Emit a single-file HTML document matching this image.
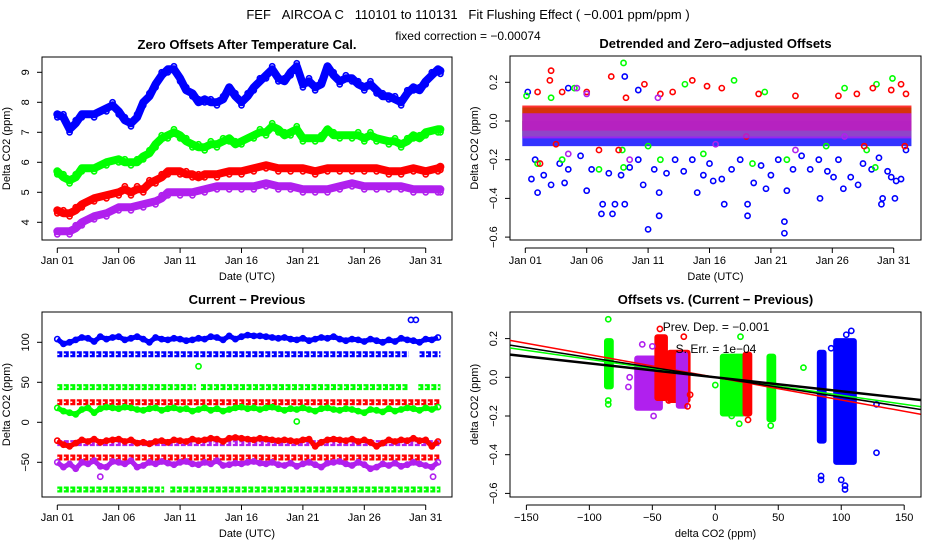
<!DOCTYPE html>
<html><head><meta charset="utf-8"><style>
html,body{margin:0;padding:0;background:#fff;}
svg{display:block;font-family:"Liberation Sans",Arial,sans-serif;}
</style></head><body>
<svg id="chart" width="936" height="540" viewBox="0 0 936 540" xmlns="http://www.w3.org/2000/svg">
<rect width="936" height="540" fill="#fff"/>
<text x="468" y="19" text-anchor="middle" font-size="13">FEF &#160;&#160;AIRCOA C &#160;&#160;110101 to 110131 &#160;&#160;Fit Flushing Effect ( −0.001 ppm/ppm )</text>
<text x="468" y="40" text-anchor="middle" font-size="12">fixed correction = −0.00074</text>
<g id="p1"></g><g id="p2"></g><g id="p3"></g><g id="p4"></g>
</svg>
<script>
// ---------- DATA ----------
const colors = ["#0000ff", "#00ff00", "#ff0000", "#b020ee"];
const seriesNames = ["blue", "green", "red", "purple"];
const dayTickLabels = ["Jan 01", "Jan 06", "Jan 11", "Jan 16", "Jan 21", "Jan 26", "Jan 31"];
const dayTickValues = [0, 5, 10, 15, 20, 25, 30];

// Panel 1: zero offsets [day, ppm]
const p1Blue = [[0,7.6],[0.5,7.5],[1,7.1],[1.5,7.3],[2,7.6],[3,7.6],[4,7.8],[4.5,7.9],[5,7.7],[5.5,7.4],[6,7.3],[6.5,7.5],[7,8.0],[7.5,8.2],[8,8.6],[8.5,8.9],[9,9.1],[9.5,9.1],[10,8.8],[10.5,8.4],[11,8.3],[11.5,8.0],[12,8.1],[12.5,8.0],[13,8.0],[13.5,8.1],[14,8.5],[14.5,8.2],[15,8.0],[15.5,8.2],[16,8.5],[16.5,8.7],[17,8.9],[17.5,9.1],[18,8.8],[18.5,8.7],[19,9.0],[19.5,9.2],[20,8.6],[20.5,8.7],[21,8.5],[21.5,8.6],[22,9.2],[22.5,8.9],[23,8.7],[23.5,8.8],[24,8.8],[24.5,8.6],[25,8.5],[25.5,8.6],[26,8.4],[26.5,8.2],[27,8.2],[27.5,8.1],[28,8.0],[28.5,8.3],[29,8.5],[29.5,8.4],[30,8.7],[30.5,8.9],[31,9.1],[31.2,9.05]];
const p1Green = [[0,5.7],[0.5,5.5],[1,5.4],[1.5,5.5],[2,5.8],[3,5.8],[4,6.0],[5,6.1],[5.5,6.0],[6,6.0],[6.5,6.0],[7,6.2],[7.5,6.3],[8,6.6],[8.5,6.8],[9,6.9],[9.5,7.0],[10,6.9],[10.5,6.7],[11,6.6],[11.5,6.5],[12,6.5],[12.5,6.6],[13,6.6],[13.5,6.7],[14,6.8],[14.5,6.6],[15,6.7],[16,6.9],[16.5,7.0],[17,7.0],[17.5,7.2],[18,7.1],[18.5,6.9],[19,7.0],[19.5,7.1],[20,6.8],[21,6.8],[21.5,6.8],[22,7.1],[22.5,6.9],[23,6.9],[24,6.9],[24.5,6.9],[25,6.8],[25.5,6.9],[26,6.8],[27,6.7],[27.5,6.7],[28,6.6],[28.5,6.7],[29,6.9],[29.5,6.8],[30,7.0],[31,7.1],[31.2,7.1]];
const p1Red = [[0,4.4],[0.5,4.3],[1,4.3],[1.5,4.4],[2,4.6],[3,4.8],[4,4.9],[5,5.0],[5.5,5.1],[6,5.0],[6.5,5.1],[7,5.1],[7.5,5.3],[8,5.4],[8.5,5.5],[9,5.7],[10,5.7],[10.5,5.6],[11,5.6],[11.5,5.5],[12,5.6],[13,5.6],[14,5.7],[15,5.7],[16,5.8],[17,5.9],[18,5.8],[19,5.8],[20,5.8],[21,5.7],[22,5.8],[23,5.8],[24,5.8],[25,5.8],[26,5.8],[27,5.7],[28,5.7],[29,5.8],[30,5.7],[31,5.8],[31.2,5.85]];
const p1Purple = [[0,3.7],[1,3.7],[1.5,3.8],[2,4.0],[3,4.2],[4,4.3],[5,4.5],[6,4.5],[7,4.6],[8,4.7],[8.5,4.8],[9,5.0],[10,5.0],[11,5.0],[12,5.1],[13,5.2],[14,5.2],[15,5.2],[16,5.2],[17,5.3],[18,5.2],[19,5.2],[20,5.1],[21,5.1],[22,5.1],[23,5.2],[24,5.3],[25,5.2],[26,5.2],[27,5.2],[28,5.2],[29,5.1],[30,5.1],[31,5.1],[31.2,5.1]];
const p1YTicks = [4, 5, 6, 7, 8, 9];

// Panel 2: detrended offsets; core band per series [lo, hi] and outliers [day, val]
const p2Bands = [[-0.13, 0.0], [-0.08, 0.07], [-0.05, 0.08], [-0.09, 0.04]];
const p2BlueOut = [[0.5,-0.30],[1,-0.37],[2.1,-0.33],[3.2,-0.32],[5,-0.36],[6.2,-0.48],[6.3,-0.43],[7.1,-0.48],[7.3,-0.43],[8.1,-0.43],[10,-0.56],[9.6,-0.33],[10.9,-0.49],[10.9,-0.37],[14,-0.37],[15.3,-0.31],[16.2,-0.43],[18.1,-0.43],[18.1,-0.49],[21.1,-0.52],[21.1,-0.58],[21.3,-0.36],[19.6,-0.35],[24,-0.40],[25.1,-0.29],[25.9,-0.35],[27.1,-0.33],[29,-0.43],[29.1,-0.40],[30.1,-0.40],[30.2,-0.31],[29.8,-0.29],[0.8,-0.2],[1.5,-0.28],[2.8,-0.22],[3.5,-0.25],[4.5,-0.18],[5.4,-0.25],[6.8,-0.27],[7.8,-0.28],[8.5,-0.24],[9.2,-0.2],[10.5,-0.25],[11.5,-0.27],[12.2,-0.2],[12.9,-0.26],[13.6,-0.2],[14.5,-0.28],[15,-0.22],[16,-0.3],[16.8,-0.25],[17.5,-0.2],[18.6,-0.32],[19.2,-0.23],[20,-0.28],[20.6,-0.2],[21.8,-0.25],[22.5,-0.18],[23.2,-0.25],[23.9,-0.2],[24.6,-0.26],[25.5,-0.2],[26.5,-0.29],[27.5,-0.22],[28.2,-0.25],[28.8,-0.19],[29.5,-0.26],[30.6,-0.3],[31,-0.15],[0.2,0.15],[8.1,0.23],[3.5,0.17],[9.2,0.16]];
const p2GreenOut = [[8,0.30],[0.1,0.13],[2.1,0.12],[4,0.17],[13,0.19],[17,0.21],[28.6,0.19],[29.9,0.22],[26,0.17],[19.5,0.15],[3,-0.2],[6,-0.25],[8,-0.24],[14.5,-0.17],[18.5,-0.22],[21.3,-0.2],[24.5,-0.13],[28.5,-0.24],[10,-0.13],[11,-0.2],[27.8,-0.15],[1,-0.22],[7.9,-0.15]];
const p2RedOut = [[2.1,0.26],[2,0.21],[7,0.23],[13.6,0.21],[9.7,0.19],[30.6,0.19],[1,0.15],[3,0.15],[5,0.15],[8.2,0.12],[11,0.14],[12,0.15],[14.8,0.18],[16,0.17],[19,0.14],[22,0.13],[25.5,0.13],[27,0.14],[28.3,0.17],[29.8,0.16],[31,0.14],[1.2,-0.22],[6,-0.15],[7.6,-0.15],[27.6,-0.13],[30.9,-0.13],[18,-0.08],[2.5,-0.12]];
const p2PurpleOut = [[3.5,-0.17],[4.2,0.17],[8.5,-0.2],[10.8,0.12],[5,0.14],[15.5,-0.12],[22,-0.15],[26,-0.08]];
const p2YTicks = [-0.6, -0.4, -0.2, 0.0, 0.2];
const p2YLabels = ["−0.6", "−0.4", "−0.2", "0.0", "0.2"];

// Panel 3: current - previous; noisy series per half day and constant levels
const p3Blue = [104,98,100,103,106,105,101,107,104,106,107,103,105,107,104,100,106,104,103,105,104,102,103,105,104,107,106,103,108,104,107,109,108,108,107,106,105,106,104,103,105,102,104,106,105,107,104,102,104,103,101,104,102,100,103,101,105,103,102,100,104,103,106];
const p3Green = [18,14,12,10,16,18,12,17,19,18,17,19,18,16,15,17,18,15,17,18,16,17,14,16,18,15,17,14,16,18,19,17,18,16,18,19,17,15,17,16,18,16,14,17,18,16,15,17,16,14,12,16,15,13,17,14,16,18,17,15,18,16,19];
const p3Red = [-23,-28,-30,-26,-22,-24,-21,-25,-23,-22,-21,-24,-22,-26,-25,-27,-24,-23,-25,-22,-23,-24,-21,-23,-22,-20,-21,-24,-20,-19,-20,-21,-22,-20,-21,-22,-23,-22,-23,-24,-22,-21,-30,-25,-22,-21,-22,-23,-21,-24,-22,-25,-30,-26,-22,-24,-22,-23,-20,-23,-22,-30,-24];
const p3Purple = [-50,-56,-52,-58,-50,-52,-48,-55,-56,-49,-50,-52,-48,-56,-54,-50,-52,-49,-51,-53,-50,-49,-52,-53,-50,-52,-48,-54,-53,-51,-52,-50,-49,-51,-52,-50,-53,-54,-51,-55,-52,-50,-53,-56,-51,-50,-49,-52,-54,-50,-53,-58,-56,-52,-54,-51,-55,-53,-50,-52,-54,-56,-50];
// constant levels: [value, startDay, endDay, colorIndex]
const p3Levels = [[85,0,28.6,0],[85,29.5,31.2,0],[44,0,11.3,1],[44,11.7,28.6,1],[44,29.4,31.2,1],[25,0,31.2,2],[-26,0,31.2,3],[-44,0,31.2,2],[-84,0,8.7,1],[-84,9.2,31.2,1]];
const p3Extra = [[28.8,128,0],[29.2,128,0],[11.5,70,1],[19.5,1,1],[3.5,-68,3],[30.6,-68,3]];
const p3YTicks = [-50, 0, 50, 100];
const p3YLabels = ["−50", "0", "50", "100"];

// Panel 4: clusters [xMin, xMax, yLo, yHi, colorIndex]
const p4Clusters = [[-86,-83,-0.06,0.2,1],[-62,-44,-0.17,0.11,3],[-46,-40,-0.12,0.22,2],[-36,-22,-0.13,0.14,2],[-29,-24,-0.16,0.13,3],[6,22,-0.2,0.12,1],[24,27,-0.2,0.13,2],[43,46,-0.23,0.12,1],[83,86,-0.34,0.14,0],[96,110,-0.45,0.2,0]];
const p4Outliers = [[-85,0.3,1],[-85,-0.12,1],[-85,-0.14,1],[-68,0.0,3],[-69,-0.05,3],[-58,0.17,3],[-50,0.16,3],[-49,-0.2,3],[-44,0.25,2],[-37,-0.12,2],[-25,0.21,2],[-22,-0.15,2],[-20,-0.09,2],[0,-0.04,1],[20,0.21,1],[19,-0.24,1],[13,-0.2,1],[70,0.05,1],[26,-0.22,2],[44,-0.25,1],[84,-0.53,0],[84,-0.51,0],[92,0.15,0],[103,-0.58,0],[103,-0.56,0],[104,0.22,0],[108,0.24,0],[128,-0.39,0],[128,-0.14,0],[100,-0.53,0]];
// fit lines: [slope, intercept, colorIndex or -1 for black, width]
const p4Fits = [[-0.00117, 0, 2, 1.5],[-0.00093, 0, 1, 1.5],[-0.00102, 0, -1, 1.5],[-0.00072, 0, -1, 2.5]];
const p4XTicks = [-150, -100, -50, 0, 50, 100, 150];
const p4XLabels = ["−150", "−100", "−50", "0", "50", "100", "150"];
const p4YTicks = [-0.6, -0.4, -0.2, 0.0, 0.2];
const p4YLabels = ["−0.6", "−0.4", "−0.2", "0.0", "0.2"];

// ---------- DRAWING ----------
const NS = "http://www.w3.org/2000/svg";
function mk(parent, tag, attrs) {
  const e = document.createElementNS(NS, tag);
  for (const k in attrs) e.setAttribute(k, attrs[k]);
  parent.appendChild(e);
  return e;
}
function linear(d0, d1, r0, r1) { return v => r0 + (v - d0) * (r1 - r0) / (d1 - d0); }

function frame(g, box, title, xlab, ylab, xt, xl, yt, yl, sx, sy, pname) {
  const fr = mk(g, "rect", {x: box.x0, y: box.y0, width: box.x1 - box.x0, height: box.y1 - box.y0, fill: "none", stroke: "#000", "stroke-width": 1});
  
  
  const t = mk(g, "text", {x: (box.x0 + box.x1) / 2, y: box.y0 - 8, "text-anchor": "middle", "font-size": 13, "font-weight": "bold"});
  t.textContent = title;
  
  
  const xa = mk(g, "g", {});
  
  
  mk(xa, "line", {x1: sx(xt[0]), x2: sx(xt[xt.length - 1]), y1: box.y1 + 8, y2: box.y1 + 8, stroke: "#000"});
  xt.forEach((v, i) => {
    const x = sx(v);
    mk(xa, "line", {x1: x, x2: x, y1: box.y1 + 8, y2: box.y1 + 13, stroke: "#000"});
    const tl = mk(xa, "text", {x: x, y: box.y1 + 24, "text-anchor": "middle", "font-size": 11});
    tl.textContent = xl[i];
    
    
  });
  const xt2 = mk(g, "text", {x: (box.x0 + box.x1) / 2, y: box.y1 + 40, "text-anchor": "middle", "font-size": 11});
  xt2.textContent = xlab;
  
  
  const ya = mk(g, "g", {});
  
  
  mk(ya, "line", {x1: box.x0, x2: box.x0, y1: sy(yt[0]), y2: sy(yt[yt.length - 1]), stroke: "#000"});
  yt.forEach((v, i) => {
    const y = sy(v);
    mk(ya, "line", {x1: box.x0 - 5, x2: box.x0, y1: y, y2: y, stroke: "#000"});
    const tl = mk(ya, "text", {x: box.x0 - 13, y: y, "text-anchor": "middle", "font-size": 11, transform: `rotate(-90 ${box.x0 - 13} ${y})`});
    tl.textContent = yl[i];
    
    
  });
  const cy = (box.y0 + box.y1) / 2, cx = box.x0 - 32;
  const yt2 = mk(g, "text", {x: cx, y: cy, "text-anchor": "middle", "font-size": 11, transform: `rotate(-90 ${cx} ${cy})`});
  yt2.textContent = ylab;
  
  
}
function dot(g, x, y, c, name) {
  const e = mk(g, "circle", {cx: x, cy: y, r: 2.6, fill: "none", stroke: c, "stroke-width": 1.6});
  
  
  return e;
}

// Panel 1
(function () {
  const g = document.getElementById("p1");
  const box = {x0: 42, x1: 452, y0: 57, y1: 240};
  const sx = linear(0, 30, 57.3, 425.7), sy = linear(4, 9, 222.3, 72.3);
  frame(g, box, "Zero Offsets After Temperature Cal.", "Date (UTC)", "Delta CO2 (ppm)", dayTickValues, dayTickLabels, p1YTicks, p1YTicks.map(String), sx, sy, "offsets-panel");
  [p1Blue, p1Green, p1Red, p1Purple].forEach((s, k) => {
    const sg = mk(g, "g", {});
    
    
    const d = s.map((p, i) => (i ? "L" : "M") + sx(p[0]).toFixed(1) + "," + sy(p[1]).toFixed(1)).join("");
    mk(sg, "path", {d: d, fill: "none", stroke: colors[k], "stroke-width": 8, "stroke-linejoin": "round", "stroke-linecap": "round"});
    s.forEach(p => dot(sg, sx(p[0]), sy(p[1]) + (Math.round(p[0] * 2) % 2 ? -3 : 3), colors[k], 'point'));
  });
})();

// Panel 2
(function () {
  const g = document.getElementById("p2");
  const box = {x0: 510, x1: 921, y0: 56, y1: 240};
  const sx = linear(0, 30, 525.3, 893.7), sy = linear(0, 0.2, 121, 82.3);
  frame(g, box, "Detrended and Zero−adjusted Offsets", "Date (UTC)", "Delta CO2 (ppm)", dayTickValues, dayTickLabels, p2YTicks, p2YLabels, sx, sy, "detrended-panel");
  const outs = [p2BlueOut, p2GreenOut, p2RedOut, p2PurpleOut];
  [0, 1, 2, 3].forEach(k => {
    const sg = mk(g, "g", {});
    
    
    const b = p2Bands[k];
    const band = mk(sg, "rect", {x: sx(0) - 3, width: sx(31.2) - sx(0) + 6, y: sy(b[1]), height: sy(b[0]) - sy(b[1]), fill: colors[k], opacity: 0.8});
    
    
    outs[k].forEach(p => dot(sg, sx(p[0]), sy(p[1]), colors[k], 'point'));
  });
})();

// Panel 3
(function () {
  const g = document.getElementById("p3");
  const box = {x0: 42, x1: 452, y0: 312, y1: 497};
  const sx = linear(0, 30, 57.3, 425.7), sy = linear(0, 100, 422.3, 342.3);
  frame(g, box, "Current − Previous", "Date (UTC)", "Delta CO2 (ppm)", dayTickValues, dayTickLabels, p3YTicks, p3YLabels, sx, sy, "current-previous-panel");
  p3Levels.forEach(l => {
    const lg = mk(g, "g", {});
    
    
    mk(lg, "line", {x1: sx(l[1]), x2: sx(l[2]), y1: sy(l[0]), y2: sy(l[0]), stroke: colors[l[3]], "stroke-width": 6, "stroke-dasharray": "5 1.5"});
    mk(lg, "line", {x1: sx(l[1]), x2: sx(l[2]), y1: sy(l[0]), y2: sy(l[0]), stroke: "#fff", "stroke-width": 1.5, "stroke-dasharray": "2 4.5"});
  });
  [p3Blue, p3Green, p3Red, p3Purple].forEach((s, k) => {
    const sg = mk(g, "g", {});
    
    
    const d = s.map((v, i) => (i ? "L" : "M") + sx(i * 0.5).toFixed(1) + "," + sy(v).toFixed(1)).join("");
    mk(sg, "path", {d: d, fill: "none", stroke: colors[k], "stroke-width": 5, "stroke-linejoin": "round"});
    s.forEach((v, i) => dot(sg, sx(i * 0.5), sy(v), colors[k], 'point'));
  });
  p3Extra.forEach(p => dot(g, sx(p[0]), sy(p[1]), colors[p[2]], 'outlier-point'));
})();

// Panel 4
(function () {
  const g = document.getElementById("p4");
  const box = {x0: 510, x1: 921, y0: 312, y1: 497};
  const sx = linear(0, 150, 715.3, 904.2), sy = linear(0, 0.2, 377.3, 338.6);
  frame(g, box, "Offsets vs. (Current − Previous)", "delta CO2 (ppm)", "delta CO2 (ppm)", p4XTicks, p4XLabels, p4YTicks, p4YLabels, sx, sy, "scatter-panel");
  p4Clusters.forEach(c => {
    const r = mk(g, "rect", {x: sx(c[0]) - 2.5, width: sx(c[1]) - sx(c[0]) + 5, y: sy(c[3]), height: sy(c[2]) - sy(c[3]), rx: 2.5, fill: colors[c[4]], stroke: colors[c[4]], "stroke-width": 1});
    
    
  });
  p4Outliers.forEach(p => dot(g, sx(p[0]), sy(p[1]), colors[p[2]], 'outlier-point'));
  const cg = mk(g, "g", {});
  p4Fits.forEach(f => {
    const xa = -163, xb = 163;
    const l = mk(cg, "line", {x1: sx(xa), x2: sx(xb), y1: sy(f[1] + f[0] * xa), y2: sy(f[1] + f[0] * xb), stroke: f[2] < 0 ? "#000" : colors[f[2]], "stroke-width": f[3]});
    
    
  });
  const t1 = mk(g, "text", {x: 716, y: 331, "text-anchor": "middle", "font-size": 12});
  t1.textContent = "Prev. Dep. =  −0.001";
  
  
  const t2 = mk(g, "text", {x: 716, y: 353, "text-anchor": "middle", "font-size": 12});
  t2.textContent = "S. Err. =  1e−04";
  
  
})();
</script>
</body></html>
